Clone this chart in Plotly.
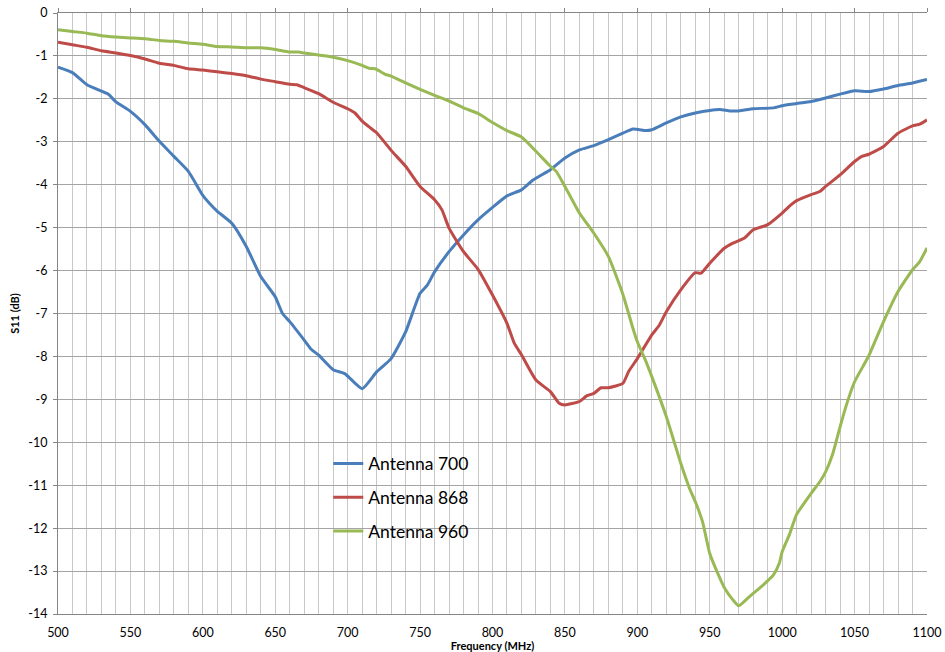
import plotly.graph_objects as go

# ---- data ----
f_700 = [500, 510, 520, 530, 535, 540, 550, 560, 570, 580, 590, 600, 605, 610, 620, 630, 640, 650, 655, 660,
         670, 675, 680, 690, 698, 710, 720, 730, 740, 750, 755, 760, 770, 780, 790, 800, 810, 820, 828, 840,
         850, 860, 870, 880, 890, 897, 906, 910, 920, 930, 940, 950, 957, 964, 970, 980, 994, 1000, 1010, 1020,
         1030, 1040, 1050, 1060, 1070, 1080, 1090, 1100]
s_700 = [-1.26, -1.39, -1.67, -1.82, -1.90, -2.07, -2.29, -2.60, -2.99, -3.34, -3.69, -4.25, -4.45, -4.62, -4.90,
         -5.44, -6.14, -6.61, -7.00, -7.19, -7.62, -7.84, -7.97, -8.31, -8.40, -8.75, -8.36, -8.05, -7.43, -6.53,
         -6.34, -6.03, -5.56, -5.17, -4.82, -4.53, -4.26, -4.12, -3.89, -3.65, -3.38, -3.19, -3.09, -2.95, -2.80,
         -2.70, -2.74, -2.72, -2.56, -2.42, -2.33, -2.27, -2.25, -2.28, -2.28, -2.23, -2.21, -2.16, -2.11, -2.06,
         -1.98, -1.89, -1.81, -1.83, -1.77, -1.69, -1.63, -1.55]

f_868 = [500, 510, 520, 530, 540, 550, 560, 570, 580, 590, 600, 610, 620, 630, 640, 650, 660, 665, 670, 680,
         690, 700, 705, 710, 715, 720, 730, 740, 750, 760, 765, 770, 780, 790, 800, 810, 815, 820, 830, 840,
         846, 850, 860, 865, 870, 875, 880, 890, 894, 900, 910, 915, 920, 930, 940, 944, 950, 960, 966, 974,
         980, 990, 1000, 1006, 1010, 1020, 1026, 1030, 1040, 1050, 1055, 1060, 1070, 1080, 1090, 1095, 1100]
s_868 = [-0.68, -0.74, -0.80, -0.88, -0.93, -0.99, -1.07, -1.17, -1.22, -1.30, -1.33, -1.37, -1.41, -1.46, -1.54,
         -1.60, -1.66, -1.67, -1.74, -1.88, -2.08, -2.23, -2.33, -2.52, -2.66, -2.79, -3.20, -3.57, -4.04, -4.35,
         -4.58, -5.01, -5.56, -5.97, -6.57, -7.23, -7.69, -7.96, -8.55, -8.82, -9.09, -9.13, -9.05, -8.92, -8.86,
         -8.73, -8.73, -8.63, -8.35, -8.05, -7.50, -7.28, -6.96, -6.45, -6.05, -6.06, -5.83, -5.48, -5.36, -5.24,
         -5.05, -4.93, -4.66, -4.47, -4.37, -4.23, -4.16, -4.04, -3.77, -3.46, -3.34, -3.29, -3.11, -2.80, -2.63,
         -2.59, -2.49]

f_960 = [500, 510, 520, 530, 540, 550, 560, 570, 580, 590, 600, 610, 620, 630, 640, 650, 660, 666, 670, 680,
         690, 700, 710, 715, 719, 726, 730, 740, 750, 760, 770, 780, 790, 800, 810, 820, 830, 840, 844, 850,
         860, 870, 880, 890, 897, 900, 905, 910, 920, 930, 936, 940, 945, 950, 956, 960, 966, 970, 975, 980,
         987, 994, 998, 1000, 1005, 1010, 1020, 1026, 1030, 1035, 1040, 1044, 1050, 1057, 1060, 1070, 1080,
         1090, 1095, 1100]
s_960 = [-0.39, -0.43, -0.47, -0.53, -0.56, -0.58, -0.60, -0.64, -0.66, -0.70, -0.73, -0.78, -0.79, -0.81, -0.81,
         -0.85, -0.91, -0.91, -0.93, -0.98, -1.03, -1.11, -1.22, -1.29, -1.30, -1.43, -1.47, -1.63, -1.78, -1.92,
         -2.05, -2.21, -2.34, -2.55, -2.74, -2.89, -3.22, -3.57, -3.69, -4.04, -4.66, -5.13, -5.67, -6.55, -7.35,
         -7.66, -8.04, -8.47, -9.40, -10.49, -11.07, -11.38, -11.85, -12.59, -13.09, -13.38, -13.67, -13.81,
         -13.67, -13.52, -13.32, -13.09, -12.82, -12.55, -12.15, -11.68, -11.19, -10.92, -10.69, -10.26, -9.64,
         -9.17, -8.59, -8.16, -7.97, -7.19, -6.49, -5.98, -5.79, -5.47]

series = [
    ("Antenna 700", f_700, s_700, "#4A7EBB"),
    ("Antenna 868", f_868, s_868, "#BE4B48"),
    ("Antenna 960", f_960, s_960, "#98B954"),
]

x_ticks = [500, 550, 600, 650, 700, 750, 800, 850, 900, 950, 1000, 1050, 1100]
y_ticks = list(range(-14, 1))

FONT = "Lato, 'Liberation Sans', sans-serif"

fig = go.Figure()
for i, (name, fx, sy, col) in enumerate(series):
    fig.add_trace(go.Scatter(
        x=fx, y=sy, name=name, mode="lines",
        line=dict(color=col, width=3, shape="spline", smoothing=0.5),
        legendgroup=f"g{i}",
    ))

# invisible trace so the top axis (tick marks only) is drawn
fig.add_trace(go.Scatter(x=[500], y=[0], xaxis="x2", mode="markers",
                         marker=dict(opacity=0), showlegend=False, hoverinfo="skip"))

grid_h = "#A5A5A5"
grid_v = "#C8C8C8"
axis_c = "#868686"

fig.update_layout(
    width=945, height=652,
    margin=dict(l=58, r=18, t=13, b=38),
    paper_bgcolor="white", plot_bgcolor="white",
    font=dict(family=FONT, color="#000000", size=12),
    showlegend=True,
    legend=dict(
        x=0.311, y=0.28, xanchor="left", yanchor="top",
        bgcolor="rgba(0,0,0,0)", borderwidth=0,
        font=dict(family=FONT, size=17.5, color="#000000"),
        tracegroupgap=8, itemwidth=30,
    ),
    xaxis=dict(
        range=[500, 1100], tickvals=x_ticks, ticktext=[str(v) for v in x_ticks],
        showgrid=True, gridcolor=grid_v, gridwidth=1,
        minor=dict(dtick=10, tick0=500, showgrid=True, gridcolor=grid_v, gridwidth=1, ticks=""),
        showline=True, linecolor=axis_c, linewidth=1,
        ticks="", tickfont=dict(size=12.5), ticklabelstandoff=7,
        zeroline=False, automargin=False,
        title=dict(text="<b>Frequency (MHz)</b>", font=dict(size=11), standoff=0),
    ),
    xaxis2=dict(
        range=[500, 1100], overlaying="x", side="top", anchor="y",
        tickvals=x_ticks, showticklabels=False,
        ticks="outside", ticklen=4, tickcolor=axis_c,
        showline=True, linecolor=axis_c, linewidth=1,
        showgrid=False, zeroline=False, automargin=False,
    ),
    yaxis=dict(
        range=[-14, 0], tickvals=y_ticks, ticktext=[str(v) for v in y_ticks],
        showgrid=True, gridcolor=grid_h, gridwidth=1,
        showline=True, linecolor=axis_c, linewidth=1,
        ticks="outside", ticklen=4, tickcolor=axis_c, ticklabelstandoff=3,
        tickfont=dict(size=12.5), zeroline=False, automargin=False,
        title=dict(text="<b>S11 (dB)</b>", font=dict(size=11), standoff=6),
    ),
)

fig.write_html("out.html")
